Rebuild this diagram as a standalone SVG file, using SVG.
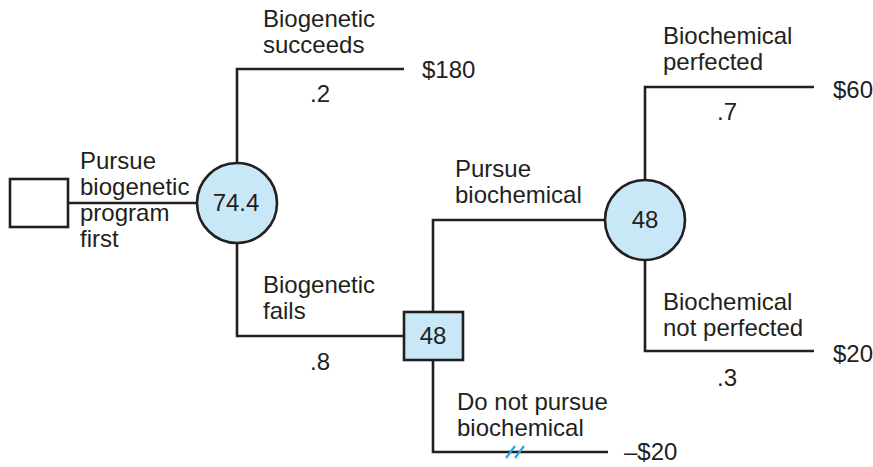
<svg xmlns="http://www.w3.org/2000/svg" width="873" height="467" viewBox="0 0 873 467">
<style>
text{font-family:"Liberation Sans",Arial,sans-serif;font-size:24px;fill:#231f20}
.ln{fill:none;stroke:#231f20;stroke-width:2.6}
.nd{stroke:#231f20;stroke-width:2.6}
.chance{fill:#c8e8f8}
.dec{fill:#c8e8f8}
.mid{text-anchor:middle}
.sl{stroke:#2aa8e0;stroke-width:2.2}
</style>
<rect width="873" height="467" fill="#fff"/>
<g id="connectors">
<path class="ln" d="M68,203 H197"/>
<path class="ln" d="M237,163 V69 H404"/>
<path class="ln" d="M237,243 V336 H404"/>
<path class="ln" d="M433,312 V220 H605"/>
<path class="ln" d="M433,360 V452 H608"/>
<path class="ln" d="M645,180 V87 H814"/>
<path class="ln" d="M645,260 V351 H814"/>
<line class="sl" x1="506" y1="458" x2="515" y2="446"/>
<line class="sl" x1="515" y1="458" x2="524" y2="446"/>
</g>
<g id="start">
<rect class="nd" x="10" y="179" width="58" height="48" fill="#fff"/>
</g>
<g id="chance1">
<circle class="nd chance" cx="237" cy="203" r="40"/>
<text class="mid" x="236" y="211">74.4</text>
</g>
<g id="decision2">
<rect class="nd dec" x="404" y="312" width="59" height="48"/>
<text class="mid" x="433" y="344">48</text>
</g>
<g id="chance2">
<circle class="nd chance" cx="645" cy="220" r="40"/>
<text class="mid" x="645" y="228">48</text>
</g>
<g id="labels">
<text x="80" y="169">Pursue</text>
<text x="80" y="195">biogenetic</text>
<text x="80" y="221">program</text>
<text x="80" y="247">first</text>
<text x="263" y="27">Biogenetic</text>
<text x="263" y="53">succeeds</text>
<text x="422" y="78">$180</text>
<text x="310" y="102">.2</text>
<text x="263" y="293">Biogenetic</text>
<text x="263" y="319">fails</text>
<text x="310" y="370">.8</text>
<text x="455" y="177">Pursue</text>
<text x="455" y="203">biochemical</text>
<text x="663" y="44">Biochemical</text>
<text x="663" y="70">perfected</text>
<text x="833" y="98">$60</text>
<text x="717" y="120">.7</text>
<text x="663" y="310">Biochemical</text>
<text x="663" y="336">not perfected</text>
<text x="833" y="362">$20</text>
<text x="717" y="386">.3</text>
<text x="457" y="410">Do not pursue</text>
<text x="457" y="436">biochemical</text>
<text x="624" y="460">–$20</text>
</g>
</svg>
